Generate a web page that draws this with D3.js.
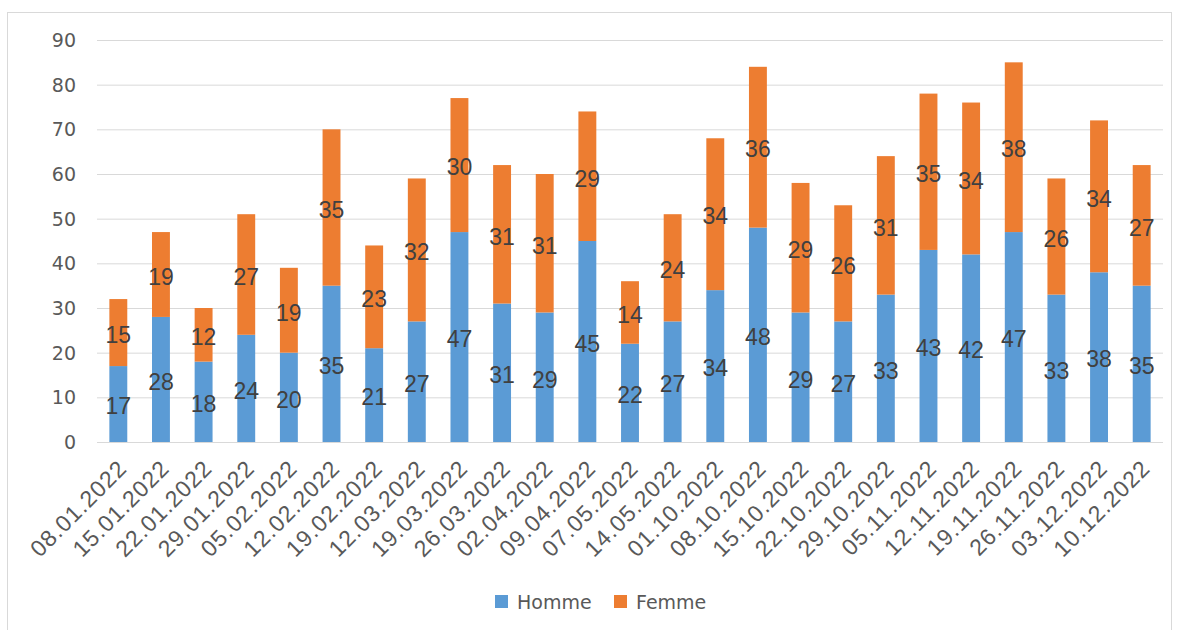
<!DOCTYPE html>
<html lang="fr">
<head>
<meta charset="UTF-8">
<title>Homme / Femme</title>
<script src="https://cdn.jsdelivr.net/npm/d3@7"></script>
<style>
    body { margin: 0; background: #fff; }
    svg { display: block; }
    .arial { font-family: "Liberation Sans", Arial, sans-serif; }
    .dejavu { font-family: "DejaVu Sans", sans-serif; }
</style>
</head>
<body>
<svg id="chart" width="1178" height="630"></svg>
<script>
// dates (x categories)
const dates = ["08.01.2022", "15.01.2022", "22.01.2022", "29.01.2022", "05.02.2022", "12.02.2022",
    "19.02.2022", "12.03.2022", "19.03.2022", "26.03.2022", "02.04.2022", "09.04.2022", "07.05.2022",
    "14.05.2022", "01.10.2022", "08.10.2022", "15.10.2022", "22.10.2022", "29.10.2022", "05.11.2022",
    "12.11.2022", "19.11.2022", "26.11.2022", "03.12.2022", "10.12.2022"];
const homme = [17, 28, 18, 24, 20, 35, 21, 27, 47, 31, 29, 45, 22, 27, 34, 48, 29, 27, 33, 43, 42, 47, 33, 38, 35];
const femme = [15, 19, 12, 27, 19, 35, 23, 32, 30, 31, 31, 29, 14, 24, 34, 36, 29, 26, 31, 35, 34, 38, 26, 34, 27];
const yTicks = [0, 10, 20, 30, 40, 50, 60, 70, 80, 90];

const series = [
    { name: "Homme", color: "#5b9bd5" },
    { name: "Femme", color: "#ed7d31" }
];

const svg = d3.select("#chart");
const plotLeft = 97, plotRight = 1163, plotTop = 40, plotBottom = 442;

// outer frame
svg.append("rect")
    .attr("x", 7.5).attr("y", 12.5)
    .attr("width", 1164).attr("height", 630)
    .attr("fill", "none").attr("stroke", "#d9d9d9");

const x = d3.scaleBand().domain(dates).range([plotLeft, plotRight]).paddingInner(0.58).paddingOuter(0.29);
const y = d3.scaleLinear().domain([0, 90]).range([plotBottom, plotTop]);

// gridlines
svg.append("g").selectAll("line")
    .data(yTicks)
    .enter().append("line")
    .attr("x1", plotLeft).attr("x2", plotRight)
    .attr("y1", d => y(d) + 0.5).attr("y2", d => y(d) + 0.5)
    .attr("stroke", "#d9d9d9").attr("stroke-width", 1);

// y labels
svg.append("g").selectAll("text")
    .data(yTicks)
    .enter().append("text")
    .attr("class", "dejavu")
    .attr("x", 76).attr("y", d => y(d))
    .attr("dy", "0.36em")
    .attr("text-anchor", "end")
    .style("font-size", "19px")
    .style("fill", "#595959")
    .text(d => d);

const rows = dates.map((d, i) => ({ date: d, Homme: homme[i], Femme: femme[i] }));
const stacked = d3.stack().keys(["Homme", "Femme"])(rows);

const layers = svg.append("g").selectAll("g")
    .data(stacked)
    .enter().append("g")
    .attr("fill", (d, i) => series[i].color);

layers.selectAll("rect")
    .data(d => d)
    .enter().append("rect")
    .attr("x", d => x(d.data.date))
    .attr("width", x.bandwidth())
    .attr("y", d => y(d[1]))
    .attr("height", d => y(d[0]) - y(d[1]));

// data labels
layers.selectAll("text")
    .data(d => d)
    .enter().append("text")
    .attr("class", "arial")
    .attr("x", d => x(d.data.date) + x.bandwidth() / 2)
    .attr("y", d => y((d[0] + d[1]) / 2) + 2)
    .attr("dy", "0.36em")
    .attr("text-anchor", "middle")
    .style("font-size", "23px")
    .style("fill", "#404040")
    .text(d => d[1] - d[0]);

// x labels
svg.append("g").selectAll("text")
    .data(dates)
    .enter().append("text")
    .attr("class", "arial")
    .attr("transform", d => `translate(${x(d) + x.bandwidth() / 2 + 4},${plotBottom + 22}) rotate(-45)`)
    .attr("text-anchor", "end")
    .attr("dy", "0.36em")
    .style("font-size", "23px")
    .style("letter-spacing", "1px")
    .style("fill", "#595959")
    .text(d => d);

// legend
const legend = svg.append("g").selectAll("g")
    .data(series)
    .enter().append("g")
    .attr("transform", (d, i) => `translate(${495 + i * 119},595)`);

legend.append("rect")
    .attr("width", 13).attr("height", 13)
    .attr("fill", d => d.color);

legend.append("text")
    .attr("class", "dejavu")
    .attr("x", 22).attr("y", 7)
    .attr("dy", "0.36em")
    .style("font-size", "19px")
    .style("fill", "#595959")
    .text(d => d.name);
</script>
</body>
</html>
